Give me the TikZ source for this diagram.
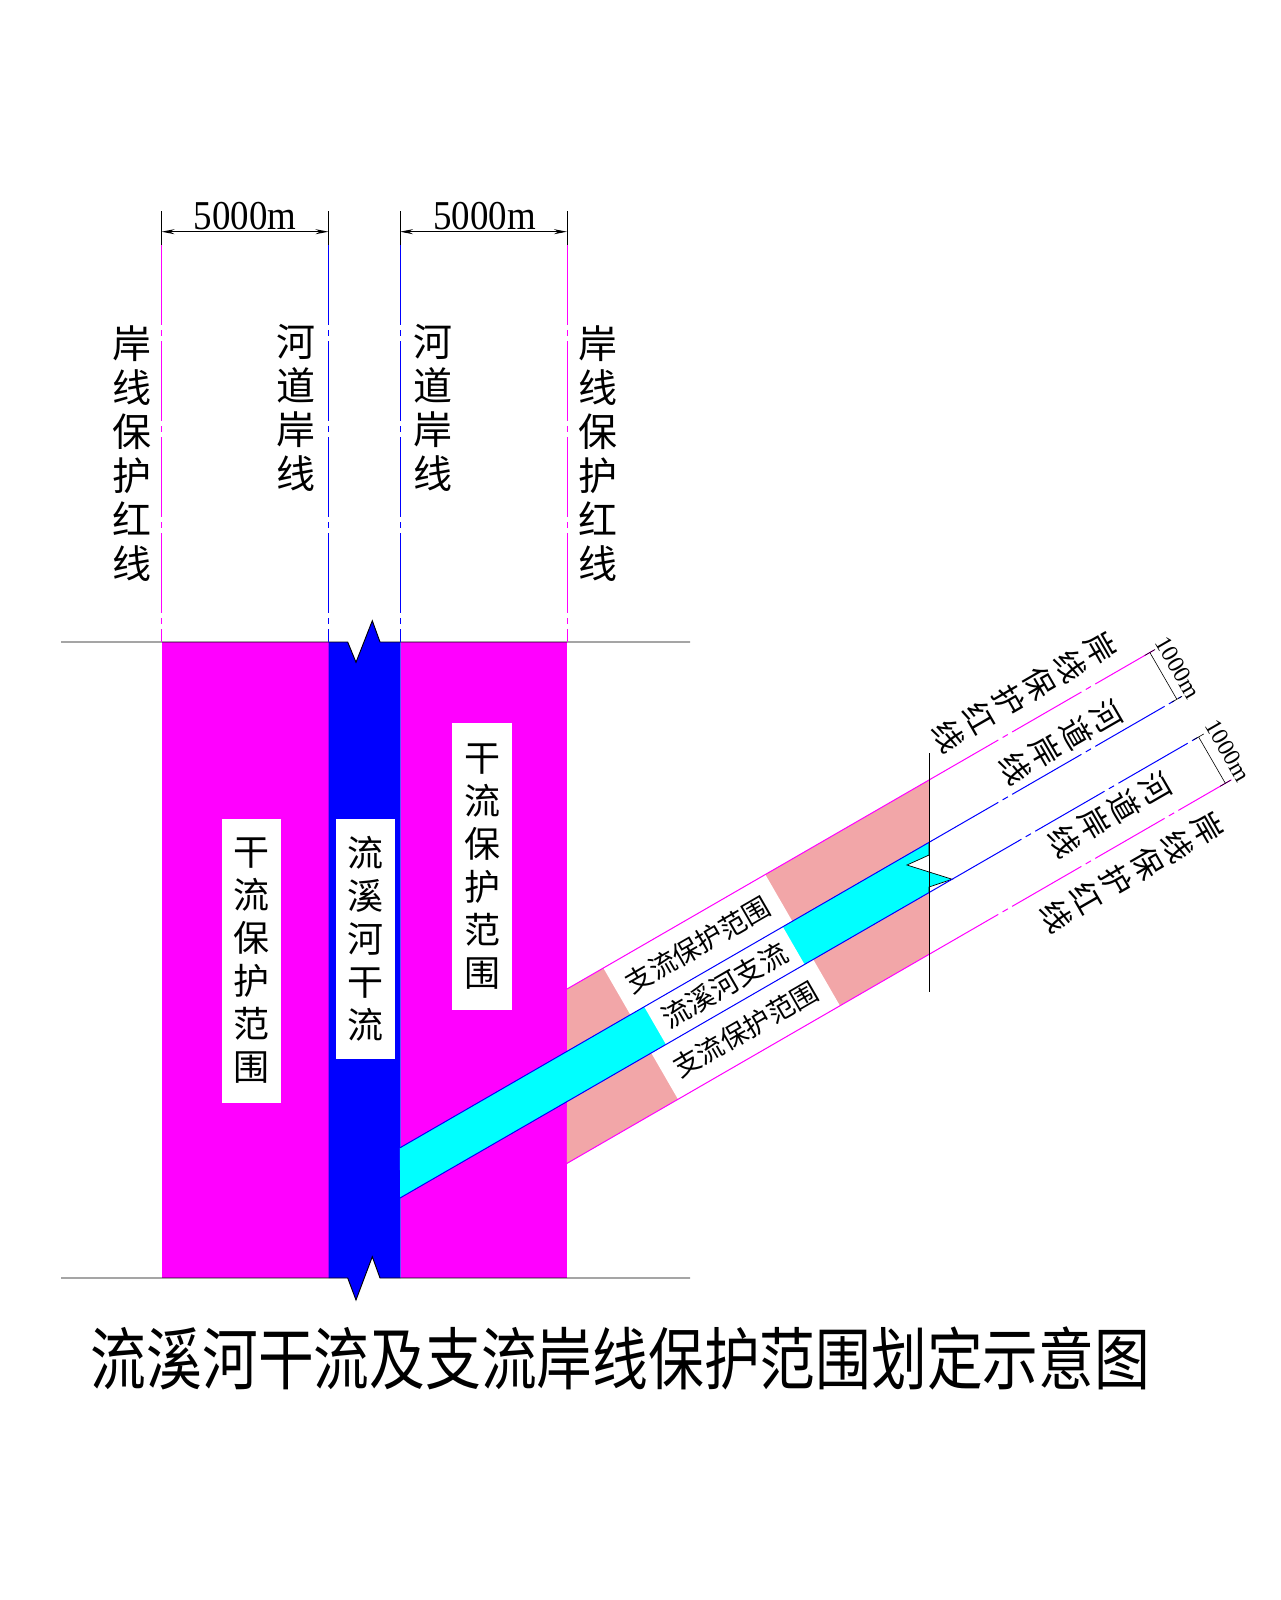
\documentclass[tikz,border=0pt]{standalone}
\usepackage{fontspec}
\setmainfont{Liberation Serif}
\newfontfamily\cjk{Noto Sans CJK SC}
\usetikzlibrary{arrows.meta}
\definecolor{mag}{RGB}{255,0,255}
\definecolor{blu}{RGB}{0,0,255}
\definecolor{cya}{RGB}{0,255,255}
\definecolor{pnk}{RGB}{242,166,168}
\begin{document}
\begin{tikzpicture}[x=1pt,y=-1pt,
  blk/.style={draw=black, line width=0.9pt},
  clmag/.style={draw=mag, line width=1pt, dash pattern=on 80pt off 5pt on 6pt off 5pt},
  clblu/.style={draw=blu, line width=1pt, dash pattern=on 80pt off 5pt on 6pt off 5pt},
  solmag/.style={draw=mag, line width=1pt},
  solblu/.style={draw=blu, line width=1pt},
  vlab/.style={align=center, inner sep=0pt, font=\cjk\fontsize{39}{44}\selectfont},
  boxlab/.style={fill=white, inner sep=0pt, align=center, minimum width=59pt, font=\cjk\fontsize{36}{43}\selectfont},
  bandbox/.style={fill=white, inner sep=0pt, rotate=30, font=\cjk\fontsize{27}{27}\selectfont},
  rlab/.style={inner sep=0pt, align=center, rotate=-60, font=\cjk\fontsize{31}{35}\selectfont},
  dimtxt/.style={inner sep=0pt, font=\fontsize{41}{41}\selectfont, xscale=0.9},
  dimtxtb/.style={inner sep=0pt, rotate=-60, font=\fontsize{24}{24}\selectfont},
  dimarr/.style={draw=black, line width=1pt, {Stealth[length=13pt,width=5pt]}-{Stealth[length=13pt,width=5pt]}}
]
\useasboundingbox (0,0) rectangle (1280,1600);
\fill[white] (0,0) rectangle (1280,1600);

% main river
\fill[mag] (161.5,642) rectangle (328.5,1278);
\fill[mag] (400.5,642) rectangle (567,1278);
\fill[blu] (328.5,642) -- (347.7,642) -- (356,662.3) -- (372.3,620.7) -- (380,642) -- (400.5,642)
  -- (400.5,1278) -- (380,1278) -- (372.3,1256.7) -- (356,1300) -- (347.7,1278) -- (328.5,1278) -- cycle;

% branch
\begin{scope}[shift={(567,989)}, rotate=30]
  \fill[pnk] (0,0) -- (418,0) -- (386.84,54) -- (-31.18,54) -- cycle;
  \fill[pnk] (-56.3,97.5) -- (361.72,97.5) -- (330.8,151) -- (-87.2,151) -- cycle;
  \fill[cya] (-224.02,54) -- (386.84,54) -- (380.5,65) -- (356.4,62.6) -- (388.4,97.5)
    -- (364.5,92.7) -- (361.72,97.5) -- (-249.13,97.5) -- cycle;
  \node[bandbox, minimum width=187pt, minimum height=54pt] (ubox) at (135.5,27) {支流保护范围};
  \node[bandbox, minimum width=160pt, minimum height=43.5pt, font=\cjk\fontsize{28}{28}\selectfont] (cbox) at (138,75.75) {流溪河支流};
  \node[bandbox, minimum width=187pt, minimum height=53.5pt] (lbox) at (134.5,124.25) {支流保护范围};
  \draw[blk, line width=0.7pt] (386.84,54) -- (380.5,65) -- (356.4,62.6) -- (388.4,97.5) -- (364.5,92.7) -- (361.72,97.5);
  \draw[solmag] (0,0) -- (418,0);
  \draw[clmag] (418,0) -- (678,0);
  \draw[solblu] (-224.02,54) -- (386.84,54);
  \draw[clblu] (386.84,54) -- (678,54);
  \draw[solblu] (-249.13,97.5) -- (388.4,97.5);
  \draw[clblu] (388.4,97.5) -- (674,97.5);
  \draw[solmag] (-87.2,151) -- (330.8,151);
  \draw[clmag] (330.8,151) -- (680,151);
  % dimensions
  \coordinate (d1a) at (673,0); \coordinate (d1b) at (673,54);
  \coordinate (d2a) at (673,97.5); \coordinate (d2b) at (673,151);
  \draw[blk, line width=0.6pt] (d1a) -- (d1b);
  \draw[blk, line width=0.6pt] (d2a) -- (d2b);
  \draw[blk, line width=0.6pt] (667,0) -- (679,0) (667,54) -- (679,54) (667,97.5) -- (679,97.5) (667,151) -- (679,151);
  \node[dimtxtb] (t1000a) at (690,27) {1000m};
  \node[dimtxtb] (t1000b) at (692,124) {1000m};
  % labels along branch
  \node[rlab] (ra) at (545,-28.5) {岸\\线\\保\\护\\红\\线};
  \node[rlab] (rb) at (551,33) {河\\道\\岸\\线};
  \node[rlab] (rc) at (557,120) {河\\道\\岸\\线};
  \node[rlab] (rd) at (548,181) {岸\\线\\保\\护\\红\\线};
\end{scope}
\draw[blk] (929,753) -- (929,992);

% horizontal break lines
\draw[blk] (61,642) -- (347.7,642) -- (356,662.3) -- (372.3,620.7) -- (380,642) -- (690,642);
\draw[blk] (61,1278) -- (347.7,1278) -- (356,1300) -- (372.3,1256.7) -- (380,1278) -- (690,1278);

% vertical lines above
\foreach \xx in {161.5,328.5,400,567} {\draw[blk, line width=0.7pt] (\xx,211) -- (\xx,245);}
\draw[clmag] (161.5,245) -- (161.5,642);
\draw[clblu] (328.5,245) -- (328.5,642);
\draw[clblu] (400,245) -- (400,642);
\draw[clmag] (567,245) -- (567,642);

% dimensions on top
\coordinate (da1) at (161.5,231.7); \coordinate (da2) at (328.5,231.7);
\coordinate (db1) at (400,231.7); \coordinate (db2) at (567,231.7);
\draw[dimarr] (da1) -- (da2);
\draw[dimarr] (db1) -- (db2);
\node[dimtxt, anchor=base] (t5000a) at (245,229) {5000m};
\node[dimtxt, anchor=base] (t5000b) at (484.5,229) {5000m};

% vertical labels
\node[vlab] (va) at (132,453.5) {岸\\线\\保\\护\\红\\线};
\node[vlab] (vb) at (296,407.5) {河\\道\\岸\\线};
\node[vlab] (vc) at (433,407.5) {河\\道\\岸\\线};
\node[vlab] (vd) at (598,453.5) {岸\\线\\保\\护\\红\\线};

% boxed labels
\node[boxlab, minimum height=284pt] (bl) at (251.7,960.9) {干\\流\\保\\护\\范\\围};
\node[boxlab, minimum height=240pt] (bm) at (365.5,938.9) {流\\溪\\河\\干\\流};
\node[boxlab, minimum height=287pt, minimum width=60pt] (br) at (482,866.5) {干\\流\\保\\护\\范\\围};

% title
\node[inner sep=0pt, font=\cjk\fontsize{68}{68}\selectfont, xscale=0.82] (title) at (620.5,1358.5) {流溪河干流及支流岸线保护范围划定示意图};
\end{tikzpicture}
\end{document}
